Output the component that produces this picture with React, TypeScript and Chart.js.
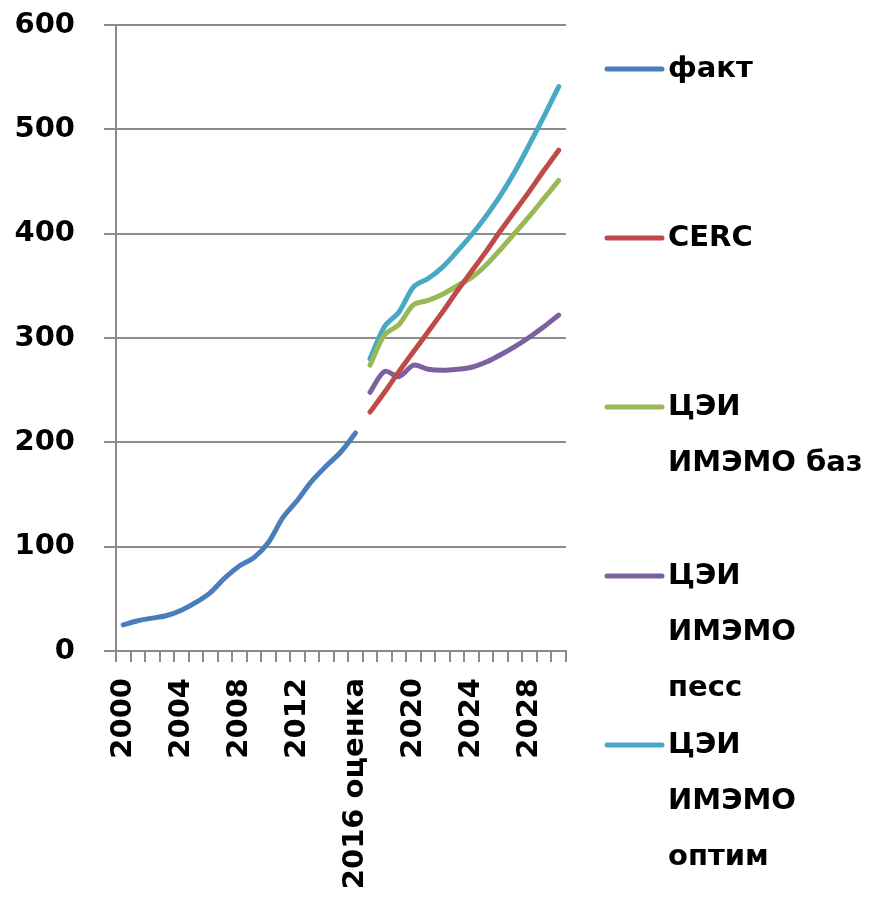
import React, { useEffect, useRef } from "react";
import { Chart, registerables } from "chart.js";

Chart.register(...registerables);

const categories: string[] = [
  "2000", "2001", "2002", "2003", "2004", "2005", "2006", "2007", "2008", "2009",
  "2010", "2011", "2012", "2013", "2014", "2015", "2016 оценка", "2017", "2018", "2019",
  "2020", "2021", "2022", "2023", "2024", "2025", "2026", "2027", "2028", "2029", "2030",
];

// 2000 .. 2016 оценка
const fact: number[] = [25, 29, 31.5, 34, 39, 46.5, 56, 70, 81.5, 89.5, 104, 128, 144.5, 163, 177.5, 191, 209];
// 2017 .. 2030
const cerc: number[] = [229, 248, 268, 287, 306, 325, 345, 364, 383, 403, 422, 441, 461, 480];
const imemoBase: number[] = [274, 303, 313, 332, 336, 342, 350, 358, 370, 385, 401, 417, 434, 451];
const imemoPess: number[] = [248, 268, 263, 274, 270, 269, 270, 272, 277, 284, 292, 301, 311, 322];
const imemoOptim: number[] = [280, 311, 325, 349, 357, 368, 383, 399, 417, 437, 460, 486, 513, 541];

const seriesNames: string[] = ["факт", "CERC", "ЦЭИ ИМЭМО баз", "ЦЭИ ИМЭМО песс", "ЦЭИ ИМЭМО оптим"];
const legendLines: string[][] = [["факт"], ["CERC"], ["ЦЭИ", "ИМЭМО баз"], ["ЦЭИ", "ИМЭМО", "песс"], ["ЦЭИ", "ИМЭМО", "оптим"]];
const colors: string[] = ["#4a7ebb", "#be4b48", "#98b954", "#7d60a0", "#46aac5"];

const yTicks: number[] = [0, 100, 200, 300, 400, 500, 600];

const W = 894;
const H = 905;
const FONT = "'DejaVu Sans', sans-serif";
const GRID = "#8c8c8c";

export default function App() {
  const ref = useRef<HTMLCanvasElement>(null);

  useEffect(() => {
    if (!ref.current) return;
    const nFact = fact.length;
    const nFc = categories.length - nFact;
    const pad = (arr: number[], before: number, after: number) =>
      [...Array(before).fill(null), ...arr, ...Array(after).fill(null)];
    const seriesData = [
      pad(fact, 0, nFc),
      pad(cerc, nFact, 0),
      pad(imemoBase, nFact, 0),
      pad(imemoPess, nFact, 0),
      pad(imemoOptim, nFact, 0),
    ];

    const legendPlugin = {
      id: "sideLegend",
      afterDraw(chart: any) {
        const ctx = chart.ctx;
        const x0 = chart.chartArea.right + 41;
        ctx.save();
        ctx.font = `bold 29px ${FONT}`;
        ctx.textBaseline = "middle";
        ctx.textAlign = "left";
        chart.data.datasets.forEach((ds: any, i: number) => {
          const y0 = 69 + i * 169;
          ctx.strokeStyle = ds.borderColor;
          ctx.lineWidth = 5;
          ctx.lineCap = "round";
          ctx.beginPath();
          ctx.moveTo(x0, y0);
          ctx.lineTo(x0 + 55, y0);
          ctx.stroke();
          ctx.fillStyle = "#000";
          legendLines[i].forEach((line, j) => {
            ctx.fillText(line, x0 + 61, y0 + j * 56);
          });
        });
        ctx.restore();
      },
    };

    const chart = new Chart(ref.current, {
      type: "line",
      data: {
        labels: categories,
        datasets: seriesNames.map((name, i) => ({
          label: name,
          data: seriesData[i],
          borderColor: colors[i],
          backgroundColor: colors[i],
          borderWidth: 5,
          borderCapStyle: "round",
          borderJoinStyle: "round",
          pointRadius: 0,
          tension: 0.3,
          spanGaps: false,
          fill: false,
        })),
      },
      options: {
        animation: false,
        responsive: false,
        maintainAspectRatio: false,
        layout: { padding: { left: 0, top: 25, right: W - 566, bottom: 0 } },
        plugins: {
          legend: { display: false },
          tooltip: { enabled: false },
        },
        scales: {
          x: {
            type: "category",
            offset: true,
            grid: {
              offset: true,
              drawOnChartArea: false,
              drawTicks: true,
              tickLength: 11,
              color: GRID,
              lineWidth: 2,
            },
            border: { color: GRID, width: 2 },
            ticks: {
              autoSkip: false,
              minRotation: 90,
              maxRotation: 90,
              padding: 16,
              color: "#000",
              font: { family: FONT, weight: "bold", size: 29 },
              callback: (_v: any, idx: number) => (idx % 4 === 0 ? categories[idx] : ""),
            },
            afterFit: (scale: any) => {
              scale.height = H - 651;
              scale.paddingTop = 0;
              scale.paddingBottom = 0;
            },
          },
          y: {
            min: yTicks[0],
            max: yTicks[yTicks.length - 1],
            afterBuildTicks: (scale: any) => {
              scale.ticks = yTicks.map((v) => ({ value: v }));
            },
            grid: {
              color: GRID,
              lineWidth: 2,
              drawTicks: true,
              tickLength: 12,
            },
            border: { color: GRID, width: 2 },
            ticks: {
              padding: 29,
              color: "#000",
              font: { family: FONT, weight: "bold", size: 29 },
            },
            afterFit: (scale: any) => {
              scale.width = 116;
              scale.paddingTop = 0;
              scale.paddingBottom = 0;
            },
          },
        },
      },
      plugins: [legendPlugin],
    } as any);

    return () => chart.destroy();
  }, []);

  return (
    <div style={{ position: "absolute", left: 0, top: 0, width: W, height: H, overflow: "hidden", background: "#fff" }}>
      <canvas ref={ref} width={W} height={H} style={{ width: W, height: H, display: "block" }} />
    </div>
  );
}
